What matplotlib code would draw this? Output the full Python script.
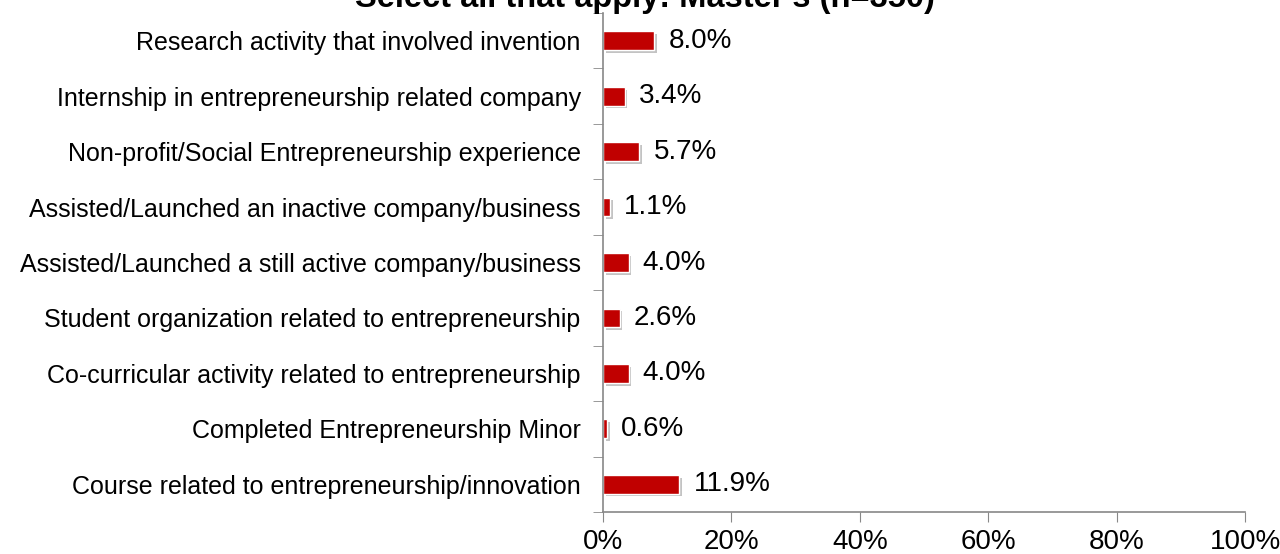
import matplotlib.pyplot as plt
import matplotlib.patheffects as pe

# Dados do gráfico (de baixo para cima)
categorias = [
    'Course related to entrepreneurship/innovation',
    'Completed Entrepreneurship Minor',
    'Co-curricular activity related to entrepreneurship',
    'Student organization related to entrepreneurship',
    'Assisted/Launched a still active company/business',
    'Assisted/Launched an inactive company/business',
    'Non-profit/Social Entrepreneurship experience',
    'Internship in entrepreneurship related company',
    'Research activity that involved invention',
]
valores = [11.9, 0.6, 4.0, 2.6, 4.0, 1.1, 5.7, 3.4, 8.0]
ticks_x = [0, 20, 40, 60, 80, 100]
titulo = "Select all that apply: Master's (n=350)"

plt.rcParams['font.family'] = ['Liberation Sans', 'DejaVu Sans']

fig = plt.figure(figsize=(12.8, 5.54), dpi=100)
ax = fig.add_axes([0.471, 0.0758, 0.5017, 0.9007])

pos = list(range(len(categorias)))
sombra = [pe.SimplePatchShadow(offset=(2, -2), shadow_rgbFace='#888888', alpha=0.5), pe.Normal()]
barras = ax.barh(pos, valores, height=0.34, color='#C00000', edgecolor='white', linewidth=1)
for b in barras:
    b.set_path_effects(sombra)

for p, v in zip(pos, valores):
    ax.text(v + 2.2, p, f'{v:.1f}%', va='center', ha='left', fontsize=20)

ax.set_xlim(0, 100)
ax.set_ylim(-0.5, len(categorias) - 0.5)
ax.set_xticks(ticks_x)
ax.set_xticklabels([f'{t}%' for t in ticks_x], fontsize=20)
ax.set_yticks(pos)
ax.set_yticklabels(categorias, fontsize=18)
ax.set_yticks([p + 0.5 for p in pos[:-1]] + [-0.5, len(categorias) - 0.5], minor=True)
ax.tick_params(axis='y', which='major', length=0, pad=16)
ax.tick_params(axis='y', which='minor', length=7, color='#888888', direction='out')
ax.tick_params(axis='x', which='major', length=7, color='#888888', direction='out', pad=5)

for lado in ['top', 'right']:
    ax.spines[lado].set_visible(False)
for lado in ['left', 'bottom']:
    ax.spines[lado].set_color('#888888')
    ax.spines[lado].set_linewidth(1.2)

# Título cortado no topo, como na imagem original
fig.text(0.504, 0.987, titulo, ha='center', va='baseline', fontsize=23.5, fontweight='bold')

fig.savefig('out.png', dpi=100)
